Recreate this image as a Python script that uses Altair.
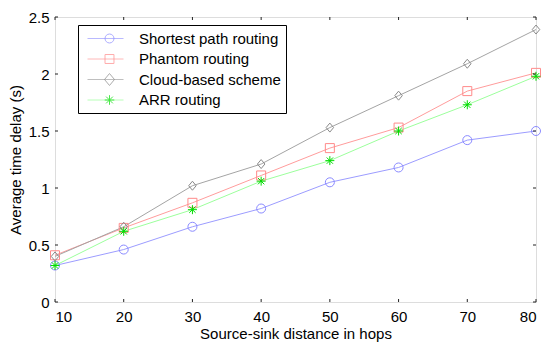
import altair as alt
import pandas as pd

hops = [10, 20, 30, 40, 50, 60, 70, 80]
series = ["Shortest path routing", "Phantom routing", "Cloud-based scheme", "ARR routing"]
shortest = [0.32, 0.46, 0.66, 0.82, 1.05, 1.18, 1.42, 1.50]
phantom = [0.41, 0.65, 0.87, 1.11, 1.35, 1.53, 1.85, 2.01]
cloud = [0.40, 0.66, 1.02, 1.21, 1.53, 1.81, 2.09, 2.39]
arr = [0.32, 0.62, 0.81, 1.06, 1.24, 1.50, 1.73, 1.98]
x_ticks = [10, 20, 30, 40, 50, 60, 70, 80]
y_ticks = [0, 0.5, 1, 1.5, 2, 2.5]

line_colors = ["#9c9cff", "#ff9c9c", "#a4a4a4", "#9cff9c"]
marker_colors = ["#8a8aff", "#ff8a8a", "#8a8a8a", "#00dd00"]

ASTER = "M-1,0L1,0M0,-1L0,1M-0.7,-0.7L0.7,0.7M-0.7,0.7L0.7,-0.7"
DIAM = "M0,-1L0.83,0L0,1L-0.83,0Z"
plot_shapes = ["circle", "square", DIAM, ASTER]

# legend symbol paths (units relative to sqrt(size)/2 = 8 px)
LINE = "M-2.75,0L1.75,0"
leg_markers = [
    "M0.56,0A0.56,0.56 0 1,1 -0.56,0A0.56,0.56 0 1,1 0.56,0",
    "M-0.56,-0.56L0.56,-0.56L0.56,0.56L-0.56,0.56Z",
    "M0,-0.75L0.62,0L0,0.75L-0.62,0Z",
    "M-0.6,0L0.6,0M0,-0.6L0,0.6M-0.42,-0.42L0.42,0.42M-0.42,0.42L0.42,-0.42",
]

rows = []
for name, vals in zip(series, [shortest, phantom, cloud, arr]):
    for h, v in zip(hops, vals):
        rows.append({"hops": h, "delay": v, "series": name})
df = pd.DataFrame(rows)

W, H = 481, 285
FONT = "Liberation Sans"
AXFONT = dict(labelFont=FONT, labelFontSize=15, labelColor="black",
              titleFont=FONT, titleFontSize=15, titleColor="black", titleFontWeight="normal")

xs = alt.Scale(domain=[10, 80], nice=False, zero=False)
ys = alt.Scale(domain=[0, 2.5], nice=False, zero=True)
X_AX = alt.Axis(values=x_ticks, tickSize=0, domain=False, grid=False, labelPadding=7,
                title="Source-sink distance in hops", titlePadding=2, format="d", **AXFONT)
Y_AX = alt.Axis(values=y_ticks, tickSize=0, domain=False, grid=False, labelPadding=6,
                title="Average time delay (s)", titlePadding=5, format="~g", **AXFONT)
xenc = alt.X("hops:Q", scale=xs, axis=X_AX)
yenc = alt.Y("delay:Q", scale=ys, axis=Y_AX)

base = alt.Chart(df)

lines = base.mark_line(strokeWidth=1).encode(
    x=xenc, y=yenc,
    color=alt.Color("series:N", scale=alt.Scale(domain=series, range=line_colors), legend=None),
    detail="series:N",
)

points = base.mark_point(filled=False, strokeWidth=1, size=81, opacity=1).encode(
    x=xenc, y=yenc,
    color=alt.Color("series:N", scale=alt.Scale(domain=series, range=marker_colors), legend=None),
    shape=alt.Shape("series:N", scale=alt.Scale(domain=series, range=plot_shapes), legend=None),
)

# inward ticks (matlab style)
xt = pd.DataFrame({"hops": x_ticks})
yt = pd.DataFrame({"delay": y_ticks})
tick_color = "#222222"
tb = alt.Chart(xt).mark_rule(color=tick_color, strokeWidth=1).encode(
    x=alt.X("hops:Q", scale=xs, axis=X_AX), y=alt.value(H), y2=alt.value(H - 3))
tt = alt.Chart(xt).mark_rule(color=tick_color, strokeWidth=1).encode(
    x=alt.X("hops:Q", scale=xs, axis=X_AX), y=alt.value(0), y2=alt.value(3))
tl = alt.Chart(yt).mark_rule(color=tick_color, strokeWidth=1).encode(
    y=alt.Y("delay:Q", scale=ys, axis=Y_AX), x=alt.value(0), x2=alt.value(3))
tr = alt.Chart(yt).mark_rule(color=tick_color, strokeWidth=1).encode(
    y=alt.Y("delay:Q", scale=ys, axis=Y_AX), x=alt.value(W), x2=alt.value(W - 3))

leg_common = dict(orient="none", legendX=23, legendY=8, title=None, padding=5,
                  symbolOffset=18, labelOffset=21, rowPadding=3.5, labelFont=FONT,
                  labelFontSize=15, labelColor="black", symbolStrokeWidth=1,
                  symbolFillColor="transparent", symbolSize=256, labelLimit=300)

legend_lines = base.transform_filter("datum.hops < 0").mark_point(filled=False).encode(
    x=xenc, y=yenc,
    color=alt.Color("series:N", scale=alt.Scale(domain=series, range=line_colors),
                    legend=alt.Legend(strokeColor="black", fillColor="white", **leg_common)),
    shape=alt.Shape("series:N", scale=alt.Scale(domain=series, range=[LINE] * 4),
                    legend=alt.Legend(strokeColor="black", fillColor="white", **leg_common)),
)
legend_marks = base.transform_filter("datum.hops < 0").mark_point(filled=False).encode(
    x=xenc, y=yenc,
    color=alt.Color("series:N", scale=alt.Scale(domain=series, range=marker_colors),
                    legend=alt.Legend(labelOpacity=0, **leg_common)),
    shape=alt.Shape("series:N", scale=alt.Scale(domain=series, range=leg_markers),
                    legend=alt.Legend(labelOpacity=0, **leg_common)),
)

chart = alt.layer(lines, points, tb, tt, tl, tr, legend_lines, legend_marks).resolve_scale(
    color="independent", shape="independent"
).properties(
    width=W, height=H,
    autosize=alt.AutoSizeParams(type="none"),
    padding={"left": 47, "top": 9, "right": 6, "bottom": 40},
).configure_view(
    stroke="#9a9a9a", strokeWidth=1
).configure(background="white")

chart.save("out.html", embed_options={"renderer": "svg", "actions": False})
